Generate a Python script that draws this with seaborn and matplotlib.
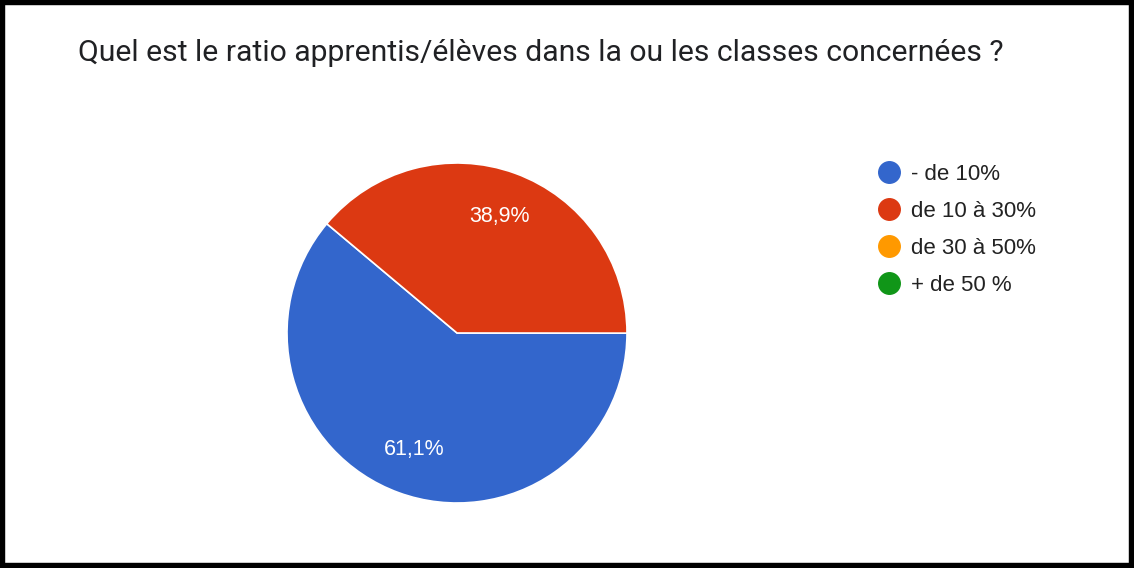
import matplotlib
matplotlib.use("Agg")
import matplotlib.pyplot as plt
from matplotlib.lines import Line2D
from matplotlib.patches import Rectangle
import numpy as np
import seaborn as sns

categories = ["- de 10%", "de 10 à 30%", "de 30 à 50%", "+ de 50 %"]
values = [61.1, 38.9, 0.0, 0.0]
pct_labels = ["61,1%", "38,9%"]
colors = ["#3366cc", "#dc3912", "#ff9900", "#109618"]
title = "Quel est le ratio apprentis/élèves dans la ou les classes concernées ?"

sns.set_theme(style="white")
plt.rcParams["font.family"] = ["Roboto", "DejaVu Sans"]
arial = ["Liberation Sans", "DejaVu Sans"]

fig = plt.figure(figsize=(11.34, 5.68), dpi=100)
fig.patch.set_facecolor("white")

# pie: center ~ (457, 333) px, radius 170 px
W, H = 1134, 568
ax = fig.add_axes([287 / W, (H - 503) / H, 340 / W, 340 / H])
shown = [v for v in values if v > 0]
wedges, _ = ax.pie(shown, colors=colors[:len(shown)], startangle=140,
                   counterclock=True,
                   wedgeprops=dict(edgecolor="white", linewidth=1.2))
ax.set_xlim(-1, 1)
ax.set_ylim(-1, 1)
ax.set_aspect("equal")

for w, lab in zip(wedges, pct_labels):
    ang = np.deg2rad((w.theta1 + w.theta2) / 2)
    ax.text(0.73 * np.cos(ang), 0.73 * np.sin(ang), lab, color="white",
            ha="center", va="center", fontsize=15.5, family=arial)

fig.text(78 / W, 1 - 53 / H, title, fontsize=21.7, color="#202124",
         ha="left", va="center")

handles = [Line2D([], [], marker="o", linestyle="none", markersize=15.5,
                  markerfacecolor=c, markeredgecolor=c) for c in colors]
leg = fig.legend(handles, categories, loc="upper left",
                 bbox_to_anchor=(867 / W, 1 - 155 / H), frameon=False,
                 fontsize=16, labelspacing=0.72, handletextpad=0.4,
                 handlelength=1.2, borderaxespad=0)
for t in leg.get_texts():
    t.set_color("#222222")
    t.set_family(arial)

fig.add_artist(Rectangle((0, 0), 1, 1, transform=fig.transFigure,
                         fill=False, edgecolor="black", linewidth=7.5))

fig.savefig("out.png", dpi=100, facecolor="white")
